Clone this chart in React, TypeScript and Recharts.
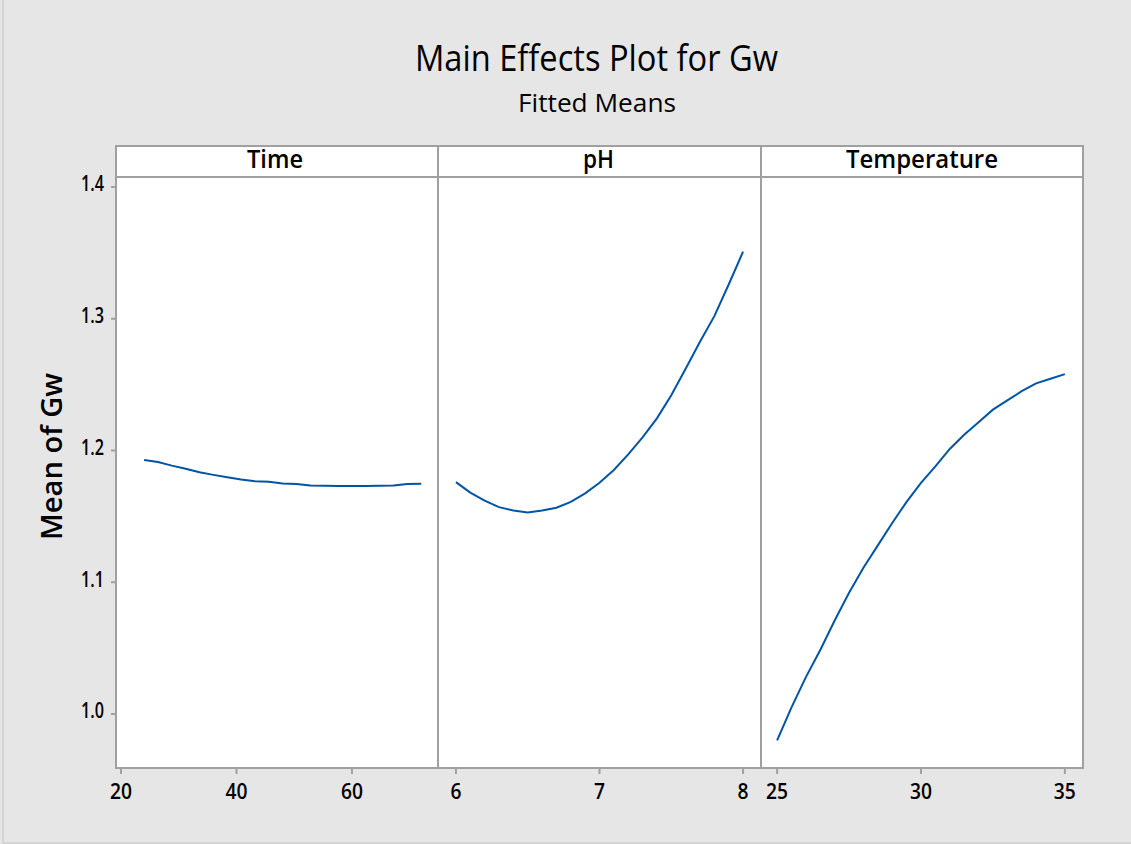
import React from 'react';
import { LineChart, Line, XAxis, YAxis } from 'recharts';

// fitted means
const timeLevels = [24, 26.4, 28.8, 31.2, 33.6, 36, 38.4, 40.8, 43.2, 45.6, 48, 50.4, 52.8, 55.2, 57.6, 60, 62.4, 64.8, 67.2, 69.6, 72];
const timeMeans = [1.1928, 1.1912, 1.1885, 1.1862, 1.1835, 1.1815, 1.1797, 1.178, 1.1766, 1.1762, 1.175, 1.1746, 1.1735, 1.1732, 1.1731, 1.1731, 1.1731, 1.1732, 1.1735, 1.1745, 1.1748];

const phLevels = [6.0, 6.1, 6.2, 6.3, 6.4, 6.5, 6.6, 6.7, 6.8, 6.9, 7.0, 7.1, 7.2, 7.3, 7.4, 7.5, 7.6, 7.7, 7.8, 7.9, 8.0];
const phMeans = [1.176, 1.168, 1.162, 1.157, 1.1545, 1.153, 1.1545, 1.1566, 1.161, 1.1675, 1.1755, 1.1852, 1.197, 1.21, 1.2244, 1.242, 1.262, 1.2825, 1.302, 1.326, 1.3509];

const tempLevels = [25, 25.5, 26, 26.5, 27, 27.5, 28, 28.5, 29, 29.5, 30, 30.5, 31, 31.5, 32, 32.5, 33, 33.5, 34, 34.5, 35];
const tempMeans = [0.98, 1.005, 1.028, 1.0486, 1.071, 1.092, 1.111, 1.128, 1.145, 1.161, 1.1755, 1.188, 1.2012, 1.212, 1.2215, 1.231, 1.238, 1.245, 1.251, 1.2545, 1.258];

const yTicks = [1.0, 1.1, 1.2, 1.3, 1.4];
const timeTicks = [20, 40, 60];
const phTicks = [6, 7, 8];
const tempTicks = [25, 30, 35];

const FONT = '"Open Sans", "Noto Sans", sans-serif';
const LINE = '#0054a6';
const FRAME = '#a0a0a0';
const Y_DOMAIN: [number, number] = [0.959, 1.4076];

const toRows = (xs: number[], ys: number[]) => xs.map((x, i) => ({ x, y: ys[i] }));

const XTick = (props: any) => {
  const { x, y, payload } = props;
  const label = String(payload.value);
  return (
    <text x={x} y={y + 25} textAnchor="middle" fontFamily={FONT} fontSize={21} fontWeight={600}
      fill="#000" textLength={11 * label.length} lengthAdjust="spacingAndGlyphs">
      {label}
    </text>
  );
};

const YTick = (props: any) => {
  const { x, y, payload } = props;
  return (
    <text x={x} y={y + 4.4} textAnchor="end" fontFamily={FONT} fontSize={21} fontWeight={600}
      fill="#000" textLength={23} lengthAdjust="spacingAndGlyphs">
      {Number(payload.value).toFixed(1)}
    </text>
  );
};

// one facet: plot area runs from y=177 to y=768 on the page
const Panel = ({ left, width, rows, domain, ticks, showY }: {
  left: number; width: number; rows: { x: number; y: number }[];
  domain: [number, number]; ticks: number[]; showY?: boolean;
}) => (
  <div style={{ position: 'absolute', left, top: 147 }}>
    <LineChart width={width} height={697} data={rows} margin={{ top: 30, right: 0, bottom: 0, left: 0 }}>
      <XAxis dataKey="x" type="number" domain={domain} ticks={ticks} allowDataOverflow
        height={76} axisLine={false} tickLine={{ stroke: FRAME, strokeWidth: 2 }} tickSize={6} tickMargin={0}
        tick={<XTick />} interval={0} />
      <YAxis type="number" domain={Y_DOMAIN} ticks={yTicks} allowDataOverflow hide={!showY}
        width={116} axisLine={false} tickLine={{ stroke: FRAME, strokeWidth: 2 }} tickSize={5} tickMargin={7}
        tick={<YTick />} interval={0} />
      <Line dataKey="y" type="linear" stroke={LINE} strokeWidth={2} dot={false} isAnimationActive={false} />
    </LineChart>
  </div>
);

export default function App() {
  return (
    <div style={{ position: 'absolute', left: 0, top: 0, width: 1131, height: 844, background: '#e6e6e6', overflow: 'hidden' }}>
      <svg width={1131} height={844} style={{ position: 'absolute', left: 0, top: 0 }}>
        <line x1={3} y1={0} x2={3} y2={843} stroke="#cfcfcf" strokeWidth={1.5} />
        <line x1={3} y1={843} x2={1131} y2={843} stroke="#cfcfcf" strokeWidth={1.5} />
        <text x={596.5} y={71} textAnchor="middle" fontFamily={FONT} fontSize={36} fill="#000"
          textLength={363} lengthAdjust="spacingAndGlyphs">Main Effects Plot for Gw</text>
        <text x={597} y={111.5} textAnchor="middle" fontFamily={FONT} fontSize={26} fill="#000"
          textLength={158} lengthAdjust="spacingAndGlyphs">Fitted Means</text>
        <rect x={116} y={146} width={967} height={622} fill="#fff" stroke={FRAME} strokeWidth={2} />
        <line x1={116} y1={177} x2={1083} y2={177} stroke={FRAME} strokeWidth={2} />
        <line x1={438} y1={146} x2={438} y2={768} stroke={FRAME} strokeWidth={2} />
        <line x1={761} y1={146} x2={761} y2={768} stroke={FRAME} strokeWidth={2} />
        <text x={275} y={168} textAnchor="middle" fontFamily={FONT} fontSize={26} fontWeight={600} fill="#000"
          textLength={56} lengthAdjust="spacingAndGlyphs">Time</text>
        <text x={598.5} y={168} textAnchor="middle" fontFamily={FONT} fontSize={26} fontWeight={600} fill="#000"
          textLength={31} lengthAdjust="spacingAndGlyphs">pH</text>
        <text x={922} y={168} textAnchor="middle" fontFamily={FONT} fontSize={26} fontWeight={600} fill="#000"
          textLength={152} lengthAdjust="spacingAndGlyphs">Temperature</text>
        <text x={62} y={456.5} transform="rotate(-90, 62, 456.5)" textAnchor="middle" fontFamily={FONT} fontSize={28}
          fontWeight={600} fill="#000" textLength={167} lengthAdjust="spacingAndGlyphs">Mean of Gw</text>
      </svg>
      <Panel left={0} width={438} rows={toRows(timeLevels, timeMeans)} domain={[19.13, 74.9]} ticks={timeTicks} showY />
      <Panel left={438} width={323} rows={toRows(phLevels, phMeans)} domain={[5.875, 8.125]} ticks={phTicks} />
      <Panel left={761} width={322} rows={toRows(tempLevels, tempMeans)} domain={[24.44, 35.63]} ticks={tempTicks} />
    </div>
  );
}
